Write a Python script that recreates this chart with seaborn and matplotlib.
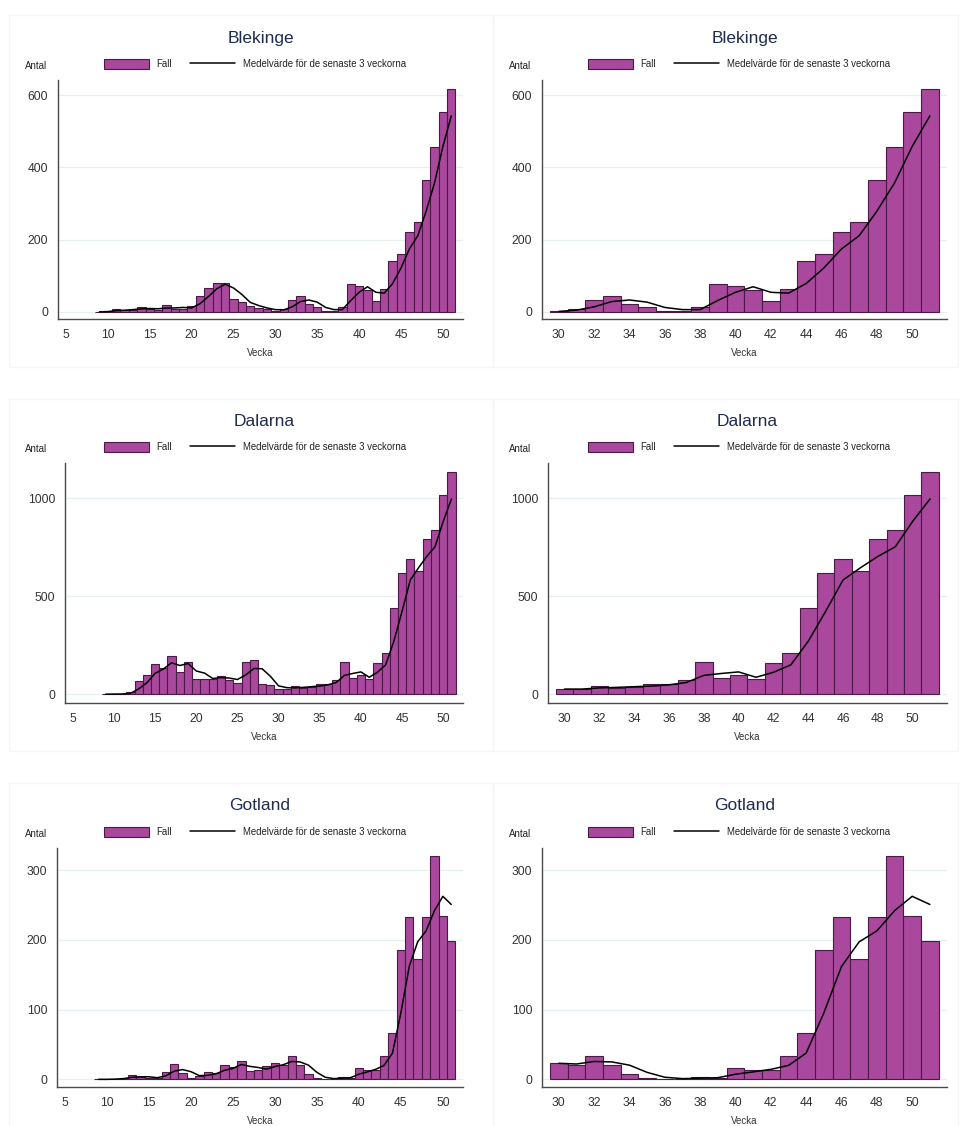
import matplotlib
matplotlib.use("Agg")
import matplotlib.pyplot as plt
import seaborn as sns
import pandas as pd
from matplotlib.patches import Rectangle
from matplotlib.lines import Line2D

# weekly case counts, week 9 to week 51
weeks = list(range(9, 52))
blekinge = [0, 1, 8, 4, 6, 14, 7, 4, 20, 8, 8, 16, 43, 67, 81, 81, 36, 27, 15, 10, 7, 1,
            8, 32, 45, 21, 14, 1, 3, 14, 77, 71, 60, 31, 64, 140, 160, 222, 250, 364, 456, 554, 618]
dalarna = [0, 1, 2, 10, 68, 97, 155, 133, 194, 112, 163, 80, 80, 80, 94, 73, 58, 163, 173, 53, 48, 26,
           26, 44, 34, 37, 53, 53, 73, 162, 82, 97, 80, 158, 211, 442, 617, 690, 629, 791, 837, 1019, 1134]
gotland = [0, 0, 1, 2, 6, 3, 2, 2, 11, 22, 9, 2, 5, 10, 9, 20, 18, 26, 12, 13, 19, 23,
           21, 33, 21, 7, 2, 0, 1, 4, 2, 16, 14, 13, 33, 67, 186, 233, 173, 233, 320, 235, 198]

regions = ["Blekinge", "Dalarna", "Gotland"]
series = [blekinge, dalarna, gotland]
y_ticks = [[0, 200, 400, 600], [0, 500, 1000], [0, 100, 200, 300]]
y_limits = [(-20, 642), (-45, 1180), (-11, 332)]
zoom_start = 30

bar_color = "#a9489c"
bar_edge = "#4a1a46"
axis_color = "#4a4a4a"

sns.set_style("white")
plt.rcParams["font.family"] = ["Liberation Sans", "DejaVu Sans"]

W, H = 961, 1126
fig = plt.figure(figsize=(W / 100, H / 100), dpi=100)


def px_axes(x0, y0, x1, y1):
    return fig.add_axes([x0 / W, 1 - y1 / H, (x1 - x0) / W, (y1 - y0) / H])


def frame(x0, y0, x1, y1):
    fig.add_artist(Rectangle((x0 / W, 1 - y1 / H), (x1 - x0) / W, (y1 - y0) / H,
                             transform=fig.transFigure, fill=False,
                             edgecolor="#f6f6f6", linewidth=1))


row_top = [80, 463, 848]
row_bottom = [319, 703, 1087]
left_x0 = [58, 65, 57]
right_x0 = [542, 548, 542]
frame_rows = [(15, 367), (399, 751), (783, 1140)]

handles = [Rectangle((0, 0), 1, 1, facecolor=bar_color, edgecolor=bar_edge, linewidth=0.8),
           Line2D([0], [0], color="black", linewidth=1.1)]
labels = ["Fall", "Medelvärde för de senaste 3 veckorna"]

for i, (name, values) in enumerate(zip(regions, series)):
    df = pd.DataFrame({"vecka": weeks, "fall": values})
    top, bottom = row_top[i], row_bottom[i]

    panels = [
        (df, left_x0[i], 463, (4.05, 52.4), list(range(5, 51, 5)), (9, 493), 104, 25),
        (df[df["vecka"] >= zoom_start].reset_index(drop=True), right_x0[i], 947,
         (29.05, 51.97), list(range(30, 51, 2)), (493, 958), 588, 509),
    ]
    for sub, x0, x1, xlim, xticks, fxs, legx, antx in panels:
        frame(fxs[0], frame_rows[i][0], fxs[1], frame_rows[i][1])
        ax = px_axes(x0, top, x1, bottom)
        sub = sub.copy()
        sub["medel"] = sub["fall"].rolling(3, min_periods=1).mean()

        sns.histplot(data=sub, x="vecka", weights="fall", discrete=True, ax=ax,
                     color=bar_color, edgecolor=bar_edge, linewidth=0.8, alpha=1)
        sns.lineplot(data=sub, x="vecka", y="medel", ax=ax, color="black", linewidth=1.1)

        ax.set_xlim(*xlim)
        ax.set_ylim(*y_limits[i])
        ax.set_xticks(xticks)
        ax.set_yticks(y_ticks[i])
        ax.set_xlabel("")
        ax.set_ylabel("")
        ax.yaxis.grid(True, color="#e6f0f0", linewidth=0.9)
        ax.set_axisbelow(True)
        for side in ["top", "right"]:
            ax.spines[side].set_visible(False)
        for side in ["left", "bottom"]:
            ax.spines[side].set_color(axis_color)
            ax.spines[side].set_linewidth(1)
        ax.tick_params(axis="both", length=4, width=0.8, color=axis_color,
                       labelsize=8.7, labelcolor="#333333", pad=3)

        cx = (x0 + x1) / 2
        fig.text(cx / W, 1 - (top - 42) / H, name, ha="center", va="center",
                 fontsize=12.5, color="#1f2d4d")
        fig.text(antx / W, 1 - (top - 14) / H, "Antal", ha="left", va="center",
                 fontsize=7, color="#222222")
        fig.text(cx / W, 1 - (bottom + 34) / H, "Vecka", ha="center", va="center",
                 fontsize=7, color="#333333")
        fig.legend(handles, labels, loc="center left",
                   bbox_to_anchor=(legx / W, 1 - (top - 16) / H), ncol=2,
                   frameon=False, fontsize=6.9, handlelength=4.7, handleheight=1.35,
                   handletextpad=0.8, columnspacing=1.9, borderaxespad=0, borderpad=0,
                   labelcolor="#222222")

fig.savefig("out.png", dpi=100)
plt.close(fig)
